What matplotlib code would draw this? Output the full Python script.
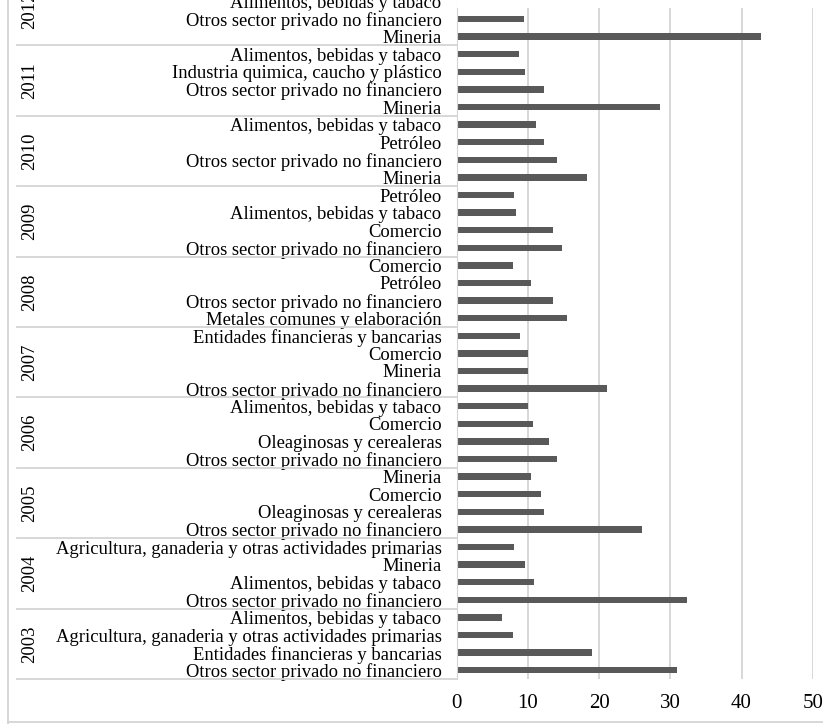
import matplotlib
matplotlib.use("Agg")
import matplotlib.pyplot as plt
from matplotlib.transforms import blended_transform_factory
from matplotlib.lines import Line2D

# grouped bars, bottom to top inside every year
years = ['2003', '2004', '2005', '2006', '2007', '2008', '2009', '2010', '2011', '2012']

cats_2003 = ['Otros sector privado no financiero', 'Entidades financieras y bancarias',
             'Agricultura, ganaderia y otras actividades primarias', 'Alimentos, bebidas y tabaco']
vals_2003 = [31.0, 19.0, 7.9, 6.4]

cats_2004 = ['Otros sector privado no financiero', 'Alimentos, bebidas y tabaco', 'Mineria',
             'Agricultura, ganaderia y otras actividades primarias']
vals_2004 = [32.3, 10.9, 9.6, 8.0]

cats_2005 = ['Otros sector privado no financiero', 'Oleaginosas y cerealeras', 'Comercio', 'Mineria']
vals_2005 = [26.0, 12.2, 11.9, 10.4]

cats_2006 = ['Otros sector privado no financiero', 'Oleaginosas y cerealeras', 'Comercio',
             'Alimentos, bebidas y tabaco']
vals_2006 = [14.1, 13.0, 10.7, 10.0]

cats_2007 = ['Otros sector privado no financiero', 'Mineria', 'Comercio', 'Entidades financieras y bancarias']
vals_2007 = [21.1, 10.0, 10.0, 8.9]

cats_2008 = ['Metales comunes y elaboración', 'Otros sector privado no financiero', 'Petróleo', 'Comercio']
vals_2008 = [15.5, 13.5, 10.4, 7.9]

cats_2009 = ['Otros sector privado no financiero', 'Comercio', 'Alimentos, bebidas y tabaco', 'Petróleo']
vals_2009 = [14.8, 13.5, 8.3, 8.0]

cats_2010 = ['Mineria', 'Otros sector privado no financiero', 'Petróleo', 'Alimentos, bebidas y tabaco']
vals_2010 = [18.3, 14.1, 12.2, 11.1]

cats_2011 = ['Mineria', 'Otros sector privado no financiero', 'Industria quimica, caucho y plástico',
             'Alimentos, bebidas y tabaco']
vals_2011 = [28.6, 12.2, 9.6, 8.8]

# top of this group is cut off in the picture
cats_2012 = ['Mineria', 'Otros sector privado no financiero', 'Alimentos, bebidas y tabaco', 'Comercio']
vals_2012 = [42.7, 9.4, 8.5, 8.0]

groups = [(cats_2003, vals_2003), (cats_2004, vals_2004), (cats_2005, vals_2005),
          (cats_2006, vals_2006), (cats_2007, vals_2007), (cats_2008, vals_2008),
          (cats_2009, vals_2009), (cats_2010, vals_2010), (cats_2011, vals_2011),
          (cats_2012, vals_2012)]

labels = []
values = []
for cats, vals in groups:
    labels += cats
    values += vals
pos = list(range(len(values)))

plt.rcParams['font.family'] = ['Liberation Serif', 'DejaVu Serif']
GRID = '#d4d4d4'

W, H = 823, 724
fig = plt.figure(figsize=(W / 100, H / 100), dpi=100)
x0, x1 = 456.7, 812.7
y_bot, row_h = 679.0, 17.6
ax_h = row_h * len(pos)
ax = fig.add_axes([x0 / W, (H - y_bot) / H, (x1 - x0) / W, ax_h / H])

ax.barh(pos, values, height=0.37, color='#595959', zorder=2)
ax.set_xlim(0, 50)
ax.set_ylim(-0.5, len(pos) - 0.5)
ax.set_xticks(range(0, 51, 10))
ax.set_yticks(pos)
ax.set_yticklabels(labels)
ax.tick_params(axis='y', length=0, pad=11, labelsize=13.4)
ax.tick_params(axis='x', length=0, pad=11, labelsize=15)
ax.grid(axis='x', color=GRID, linewidth=1.3, zorder=0)
for s in ['top', 'right', 'bottom']:
    ax.spines[s].set_visible(False)
ax.spines['left'].set_color(GRID)

# blank strip where the picture is cropped at the top
ax.axhspan(37.64, len(pos) - 0.5, color='white', zorder=4, linewidth=0)

# group separators and year labels
trans = blended_transform_factory(fig.transFigure, ax.transData)
for i, year in enumerate(years):
    lo = i * 4 - 0.5
    ax.plot([17 / W, x0 / W], [lo, lo], transform=trans, color=GRID,
            linewidth=1.3, clip_on=False)
    ax.text(30 / W, lo + 2, year, transform=trans, rotation=90, ha='center',
            va='center', fontsize=13.4)

# outer chart border
fig.add_artist(Line2D([8 / W, 8 / W], [0, 1], color=GRID, linewidth=1.3))
fig.add_artist(Line2D([8 / W, 1], [(H - 722) / H, (H - 722) / H], color=GRID, linewidth=1.3))

fig.savefig('out.png', dpi=100)
